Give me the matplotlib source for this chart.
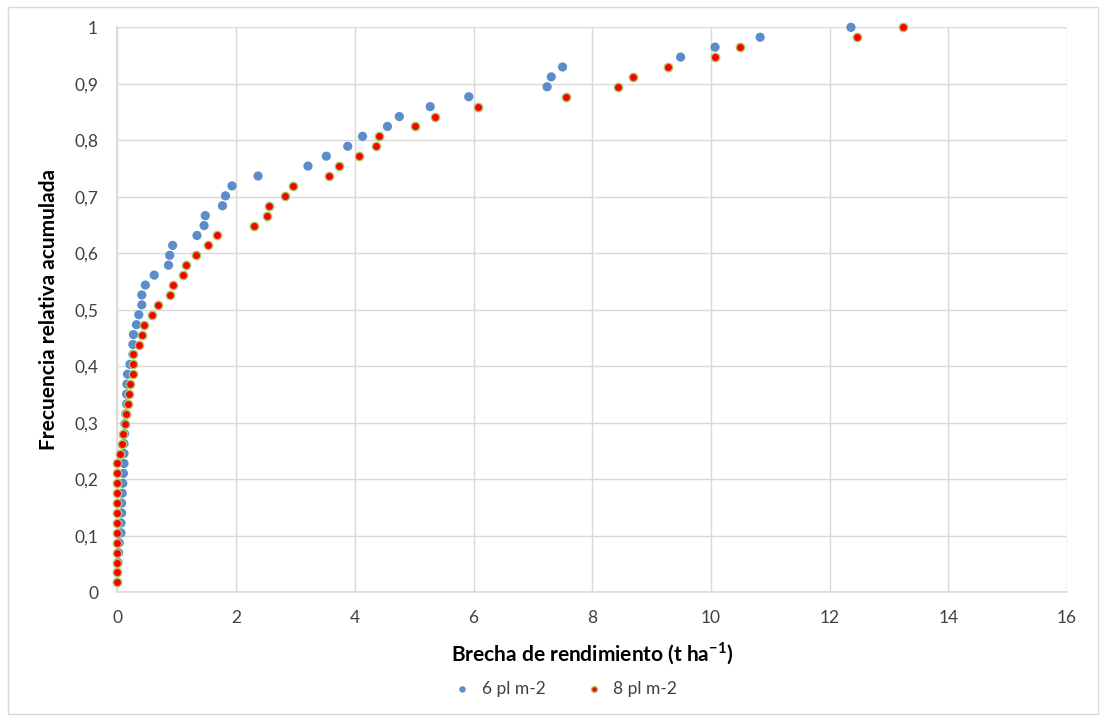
import matplotlib
matplotlib.use('Agg')
import matplotlib.pyplot as plt
from matplotlib.patches import Rectangle
from matplotlib.ticker import FuncFormatter

plt.rcParams['font.family'] = ['Lato', 'DejaVu Sans']
plt.rcParams['mathtext.fontset'] = 'custom'
plt.rcParams['mathtext.rm'] = 'Lato'
plt.rcParams['mathtext.bf'] = 'Lato:bold'

# Brecha de rendimiento (t ha-1), ordenada, una por sitio
brecha_6 = [0.00, 0.00, 0.01, 0.02, 0.03, 0.06, 0.06, 0.07, 0.07, 0.08,
            0.09, 0.10, 0.11, 0.11, 0.11, 0.12, 0.125, 0.14, 0.155, 0.155,
            0.16, 0.17, 0.21, 0.26, 0.26, 0.27, 0.32, 0.36, 0.41, 0.41,
            0.47, 0.62, 0.86, 0.88, 0.93, 1.34, 1.46, 1.48, 1.77, 1.82,
            1.93, 2.37, 3.21, 3.52, 3.88, 4.13, 4.55, 4.75, 5.27, 5.92,
            7.24, 7.31, 7.50, 9.49, 10.07, 10.83, 12.36]
brecha_8 = [0.00, 0.00, 0.00, 0.00, 0.00, 0.00, 0.00, 0.00, 0.00, 0.00,
            0.00, 0.00, 0.00, 0.05, 0.07, 0.09, 0.125, 0.14, 0.18, 0.19,
            0.21, 0.26, 0.27, 0.27, 0.36, 0.42, 0.44, 0.58, 0.69, 0.89,
            0.93, 1.10, 1.16, 1.32, 1.53, 1.68, 2.30, 2.52, 2.56, 2.83,
            2.96, 3.57, 3.74, 4.07, 4.35, 4.40, 5.02, 5.35, 6.08, 7.55,
            8.44, 8.69, 9.28, 10.07, 10.49, 12.46, 13.23]

series_labels = ['6 pl m-2', '8 pl m-2']
x_ticks = [0, 2, 4, 6, 8, 10, 12, 14, 16]
y_ticks = [0, 0.1, 0.2, 0.3, 0.4, 0.5, 0.6, 0.7, 0.8, 0.9, 1.0]

# frecuencia relativa acumulada a partir del rango
n = len(brecha_6)
frecuencia = [(k + 1) / n for k in range(n)]

fig = plt.figure(figsize=(11.06, 7.21), dpi=100)
ax = fig.add_axes([0.1062, 0.1785, 0.8585, 0.7836])

ax.scatter(brecha_6, frecuencia, s=44, color='#5B8DCB', edgecolors='none',
           label=series_labels[0], zorder=3, clip_on=False)
ax.scatter(brecha_8, frecuencia, s=36, color='#FF0000', edgecolors='#A8C868',
           linewidths=1.0, label=series_labels[1], zorder=4, clip_on=False)

ax.set_xlim(0, 16)
ax.set_ylim(0, 1)
ax.set_xticks(x_ticks)
ax.set_yticks(y_ticks)
ax.yaxis.set_major_formatter(FuncFormatter(lambda v, p: ('%g' % round(v, 1)).replace('.', ',')))
ax.grid(True, color='#D9D9D9', linewidth=1.0, zorder=0)
ax.set_axisbelow(True)
for s in ['top', 'right']:
    ax.spines[s].set_visible(False)
for s in ['left', 'bottom']:
    ax.spines[s].set_color('#D9D9D9')
    ax.spines[s].set_linewidth(1.2)
ax.tick_params(axis='both', length=0, labelsize=12.5, labelcolor='#404040')
ax.tick_params(axis='x', pad=13)
ax.tick_params(axis='y', pad=14)

ax.set_xlabel(r'Brecha de rendimiento (t ha$^{\mathbf{-1}}$)', fontsize=15,
              fontweight='bold', labelpad=10)
ax.set_ylabel('Frecuencia relativa acumulada', fontsize=15, fontweight='bold',
              labelpad=11)

fig.legend(loc='center', bbox_to_anchor=(561 / 1106, 1 - 689 / 721), ncol=2,
           frameon=False, fontsize=12.5, labelcolor='#404040',
           handletextpad=0.1, columnspacing=1.8, markerscale=0.7)

fig.patches.append(Rectangle((8 / 1106, 7 / 721), 1090 / 1106, 707 / 721,
                             transform=fig.transFigure, fill=False,
                             edgecolor='#D9D9D9', linewidth=1.0))

fig.savefig('out.png', dpi=100)
